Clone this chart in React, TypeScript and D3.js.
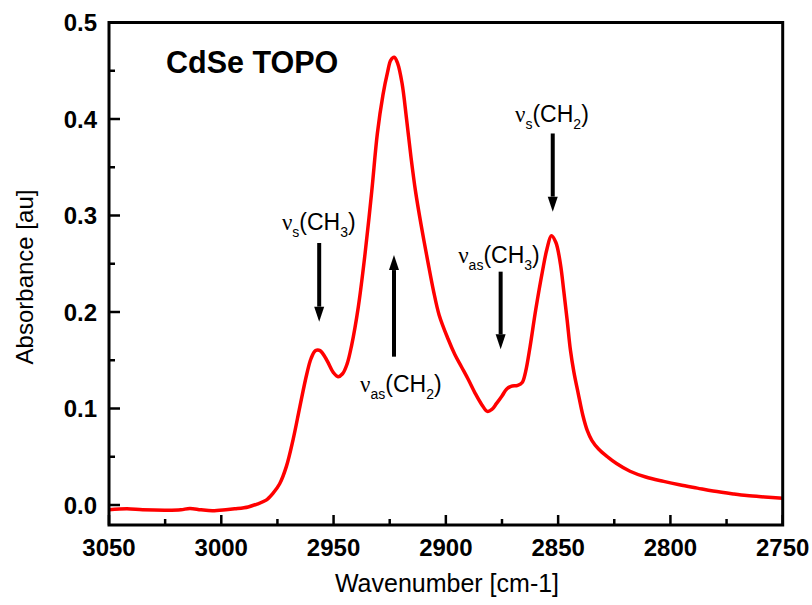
import React from "react";
import * as d3 from "d3";

const wavenumbers = [
  3050, 3042, 3035, 3024, 3018, 3014, 3009, 3004, 2998, 2994, 2988, 2984, 2980, 2977, 2974, 2971, 2968, 2965, 2962,
  2960, 2958, 2956, 2953, 2950, 2948, 2946, 2944, 2942, 2939, 2936, 2933, 2930.5, 2928, 2926, 2924.5, 2923, 2921.5,
  2919.5, 2917.5, 2915.5, 2913.5, 2911, 2908, 2905.5, 2903, 2899, 2896, 2893, 2890, 2887, 2884, 2881.5, 2879.5,
  2877.5, 2875, 2873, 2871, 2868, 2866, 2864.5, 2862.5, 2860, 2857, 2855, 2853, 2851, 2849, 2847.5, 2846, 2844.5,
  2843, 2841, 2839, 2837, 2835, 2832, 2828, 2824, 2818, 2811, 2803, 2796, 2788, 2781, 2772, 2766, 2758, 2750,
];
const absorbance = [
  -0.005, -0.004, -0.005, -0.0055, -0.005, -0.0035, -0.005, -0.006, -0.005, -0.004, -0.002, 0.001, 0.005, 0.012,
  0.022, 0.04, 0.068, 0.102, 0.135, 0.152, 0.16, 0.16, 0.15, 0.137, 0.133, 0.136, 0.146, 0.165, 0.205, 0.26, 0.325,
  0.385, 0.425, 0.448, 0.461, 0.464, 0.458, 0.437, 0.4, 0.36, 0.325, 0.29, 0.252, 0.222, 0.197, 0.172, 0.156, 0.143,
  0.13, 0.116, 0.104, 0.097, 0.099, 0.105, 0.113, 0.12, 0.123, 0.124, 0.127, 0.138, 0.164, 0.202, 0.242, 0.265,
  0.279, 0.272, 0.25, 0.222, 0.192, 0.16, 0.138, 0.115, 0.093, 0.077, 0.067, 0.058, 0.05, 0.043, 0.035, 0.029, 0.0245,
  0.021, 0.0175, 0.0145, 0.0115, 0.0098, 0.0083, 0.007,
];

const xTicks = [3050, 3000, 2950, 2900, 2850, 2800, 2750];
const yTicks = [0.0, 0.1, 0.2, 0.3, 0.4, 0.5];

// annotations: label parts, text anchor (wavenumber, absorbance), arrow (wavenumber, from, to)
const annLabels = [
  { sub: "s", mol: "CH", n: "3", tx: 2973, ty: 0.285, ax: 2956.4, a0: 0.2715, a1: 0.19 },
  { sub: "as", mol: "CH", n: "2", tx: 2938.2, ty: 0.1174, ax: 2923.1, a0: 0.1537, a1: 0.259 },
  { sub: "as", mol: "CH", n: "3", tx: 2894.5, ty: 0.2508, ax: 2875.6, a0: 0.2418, a1: 0.1613 },
  { sub: "s", mol: "CH", n: "2", tx: 2869.2, ty: 0.397, ax: 2852.4, a0: 0.385, a1: 0.304 },
];

const W = 812;
const H = 605;
const left = 109;
const right = 782.7;
const top = 22.5;
const bottom = 525;

export default function App() {
  const x = d3.scaleLinear().domain([3050, 2750]).range([left, right]);
  const y = d3.scaleLinear().domain([0, 0.5]).range([505, 22.5]);
  const pts = wavenumbers.map((w, i) => [w, absorbance[i]] as [number, number]);
  const line = d3
    .line<[number, number]>()
    .x((d) => x(d[0]))
    .y((d) => y(d[1]))
    .curve(d3.curveCatmullRom.alpha(0.5));

  const xMinor = d3.range(3025, 2750, -50);
  const yMinor = [0.05, 0.15, 0.25, 0.35, 0.45];
  const font = "'Liberation Sans', Arial, sans-serif";

  return (
    <svg width={W} height={H} style={{ position: "absolute", left: 0, top: 0, background: "#fff" }}>
      <path d={line(pts) || ""} fill="none" stroke="#ff0000" strokeWidth={3.5} strokeLinejoin="round" />

      {/* frame */}
      <rect x={left} y={top} width={right - left} height={bottom - top} fill="none" stroke="#000" strokeWidth={3} />

      {/* x ticks */}
      {xTicks.map((t) => (
        <g key={"xt" + t}>
          <line x1={x(t)} x2={x(t)} y1={bottom} y2={bottom - 10} stroke="#000" strokeWidth={2.5} />
          <text x={x(t)} y={556} textAnchor="middle" fontFamily={font} fontWeight="bold" fontSize={24}>
            {t}
          </text>
        </g>
      ))}
      {xMinor.map((t) => (
        <line key={"xm" + t} x1={x(t)} x2={x(t)} y1={bottom} y2={bottom - 6} stroke="#000" strokeWidth={2.5} />
      ))}

      {/* y ticks */}
      {yTicks.map((t) => (
        <g key={"yt" + t}>
          <line x1={left} x2={left + 11} y1={y(t)} y2={y(t)} stroke="#000" strokeWidth={2.5} />
          <text x={97} y={y(t) + 8.5} textAnchor="end" fontFamily={font} fontWeight="bold" fontSize={24}>
            {t.toFixed(1)}
          </text>
        </g>
      ))}
      {yMinor.map((t) => (
        <line key={"ym" + t} x1={left} x2={left + 6} y1={y(t)} y2={y(t)} stroke="#000" strokeWidth={2.5} />
      ))}

      {/* axis titles */}
      <text x={447} y={592} textAnchor="middle" fontFamily={font} fontSize={25}>
        Wavenumber [cm-1]
      </text>
      <text transform={`translate(33,277) rotate(-90)`} textAnchor="middle" fontFamily={font} fontSize={24}>
        Absorbance [au]
      </text>

      {/* title */}
      <text x={166} y={73} fontFamily={font} fontWeight="bold" fontSize={30.5}>
        CdSe TOPO
      </text>

      {/* annotations */}
      {annLabels.map((a, i) => {
        const ax = x(a.ax);
        const y0 = y(a.a0);
        const y1 = y(a.a1);
        const dir = y1 > y0 ? 1 : -1;
        const headLen = 15;
        const headW = 5;
        return (
          <g key={"ann" + i}>
            <text x={x(a.tx)} y={y(a.ty)} fontFamily={font} fontSize={23}>
              <tspan fontFamily="'Liberation Serif', 'Times New Roman', serif">ν</tspan>
              <tspan fontSize={14} dy={7}>
                {a.sub}
              </tspan>
              <tspan dy={-7}>({a.mol}</tspan>
              <tspan fontSize={14} dy={7}>
                {a.n}
              </tspan>
              <tspan dy={-7}>)</tspan>
            </text>
            <line x1={ax} x2={ax} y1={y0} y2={y1 - dir * headLen} stroke="#000" strokeWidth={4} />
            <path
              d={`M${ax - headW},${y1 - dir * headLen} L${ax + headW},${y1 - dir * headLen} L${ax},${y1} Z`}
              fill="#000"
            />
          </g>
        );
      })}
    </svg>
  );
}
